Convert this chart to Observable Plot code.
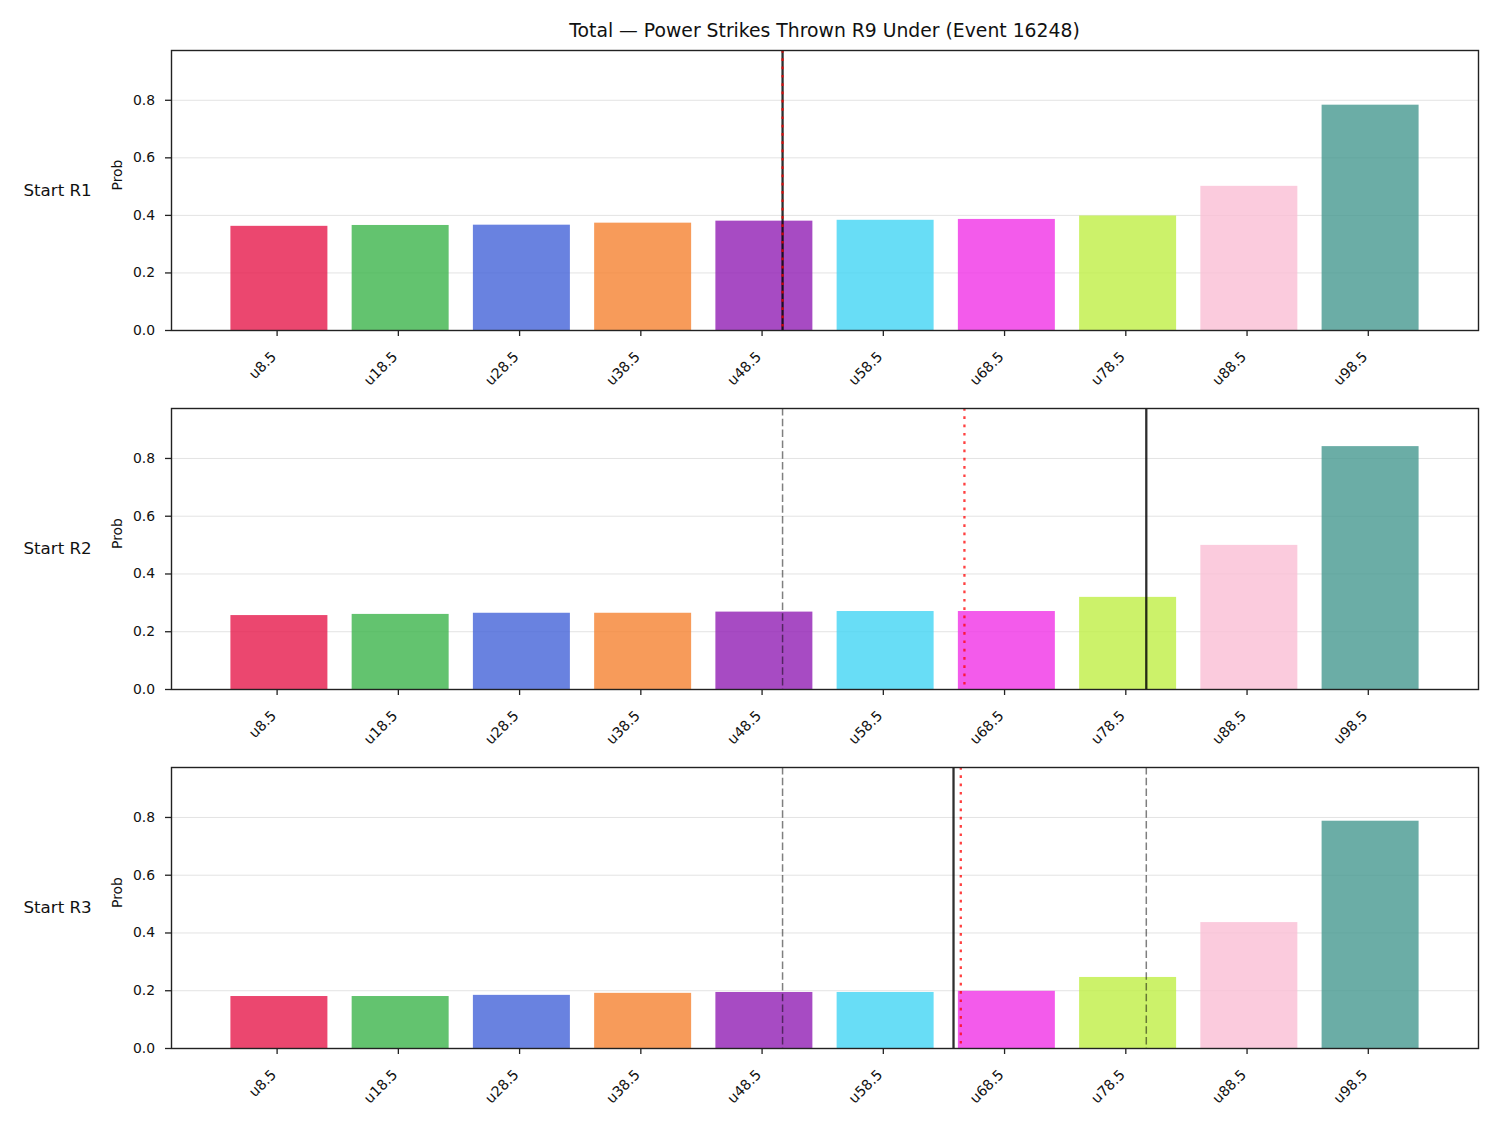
<!DOCTYPE html>
<html>
<head>
<meta charset="utf-8">
<script src="https://cdn.jsdelivr.net/npm/d3@7"></script>
<script src="https://cdn.jsdelivr.net/npm/@observablehq/plot@0.6"></script>
<style>
  html, body { margin: 0; padding: 0; background: #fff; }
  #chart { position: relative; width: 1500px; height: 1125px; font-family: "DejaVu Sans", sans-serif; color: #111; }
  #title { position: absolute; left: 171px; width: 1307px; top: 20px; text-align: center; font-size: 18.8px; line-height: 22px; white-space: nowrap; }
  .panel { position: absolute; left: 0; }
</style>
</head>
<body>
<div id="chart">
  <div id="title">Total — Power Strikes Thrown R9 Under (Event 16248)</div>
</div>
<script>
// Under-line thresholds (one bar per threshold)
const thresholds = [8.5, 18.5, 28.5, 38.5, 48.5, 58.5, 68.5, 78.5, 88.5, 98.5];
const categories = ["u8.5", "u18.5", "u28.5", "u38.5", "u48.5", "u58.5", "u68.5", "u78.5", "u88.5", "u98.5"];
const barColors = ["#e6194b", "#3cb44b", "#4363d8", "#f58231", "#911eb4", "#42d4f4", "#f032e6", "#bfef45", "#fabed4", "#469990"];

// Row labels
const panels = ["Start R1", "Start R2", "Start R3"];

// Probability of going under each threshold, by starting round
const probR1 = [0.362, 0.365, 0.366, 0.373, 0.380, 0.383, 0.386, 0.398, 0.501, 0.783];
const probR2 = [0.256, 0.260, 0.264, 0.264, 0.268, 0.270, 0.270, 0.319, 0.499, 0.841];
const probR3 = [0.180, 0.180, 0.184, 0.191, 0.194, 0.194, 0.198, 0.246, 0.436, 0.787];

// Reference lines (in strike counts)
const currentLine = [50, 80, 64.1];     // solid
const projectedLine = [50, 65, 64.7];   // dotted
const priorLines = [[], [50], [50, 80]]; // dashed, earlier rounds

const yTicks = [0, 0.2, 0.4, 0.6, 0.8];
const probs = [probR1, probR2, probR3];

// Panel frame placement
const frameTops = [50, 408, 767];
const frameHeights = [280, 281, 281];
const mTop = 8, mBottom = 64;

const chart = document.getElementById("chart");

panels.forEach((name, i) => {
  const rows = thresholds.map((t, j) => ({t, label: categories[j], p: probs[i][j]}));
  const svg = Plot.plot({
    width: 1500,
    height: mTop + frameHeights[i] + mBottom,
    marginLeft: 171,
    marginRight: 22,
    marginTop: mTop,
    marginBottom: mBottom,
    style: {fontFamily: "DejaVu Sans", fontSize: "13.9px", color: "#111", background: "transparent", overflow: "visible"},
    x: {type: "linear", domain: [-0.4, 107.4]},
    y: {domain: [0, 0.973]},
    color: {domain: categories, range: barColors},
    marks: [
      Plot.gridY(yTicks.slice(1), {stroke: "#e3e3e3", strokeOpacity: 1, strokeWidth: 1}),
      Plot.rectY(rows, {x1: d => d.t - 4, x2: d => d.t + 4, y: "p", fill: "label", fillOpacity: 0.8}),
      Plot.ruleX(priorLines[i], {stroke: "black", strokeOpacity: 0.5, strokeWidth: 1.5, strokeDasharray: "7.5,3.3"}),
      Plot.ruleX([currentLine[i]], {stroke: "black", strokeOpacity: 0.82, strokeWidth: 2.3}),
      Plot.ruleX([projectedLine[i]], {stroke: "red", strokeOpacity: 0.75, strokeWidth: 2.3, strokeDasharray: "2.7,5.6"}),
      Plot.axisY({ticks: yTicks, tickFormat: d3.format(".1f"), tickSize: 6, tickPadding: 10.5, label: null, stroke: "#222", strokeWidth: 1.3}),
      Plot.axisX({ticks: thresholds, tickFormat: d => "u" + d, tickRotate: -45, tickSize: 6, tickPadding: 21,
                  textAnchor: "end", lineAnchor: "bottom", dx: -2.3, fontSize: 14.2, label: null, stroke: "#222", strokeWidth: 1.3}),
      Plot.text(["Prob"], {frameAnchor: "left", dx: -54, rotate: -90, fontSize: 13.9, fill: "#111"}),
      Plot.text([name], {frameAnchor: "left", dx: -148, textAnchor: "start", fontSize: 16.67, fill: "#111"}),
      Plot.frame({stroke: "#222", strokeWidth: 1.4})
    ]
  });
  svg.classList.add("panel");
  svg.style.top = (frameTops[i] - mTop) + "px";
  chart.appendChild(svg);
});
</script>
</body>
</html>
